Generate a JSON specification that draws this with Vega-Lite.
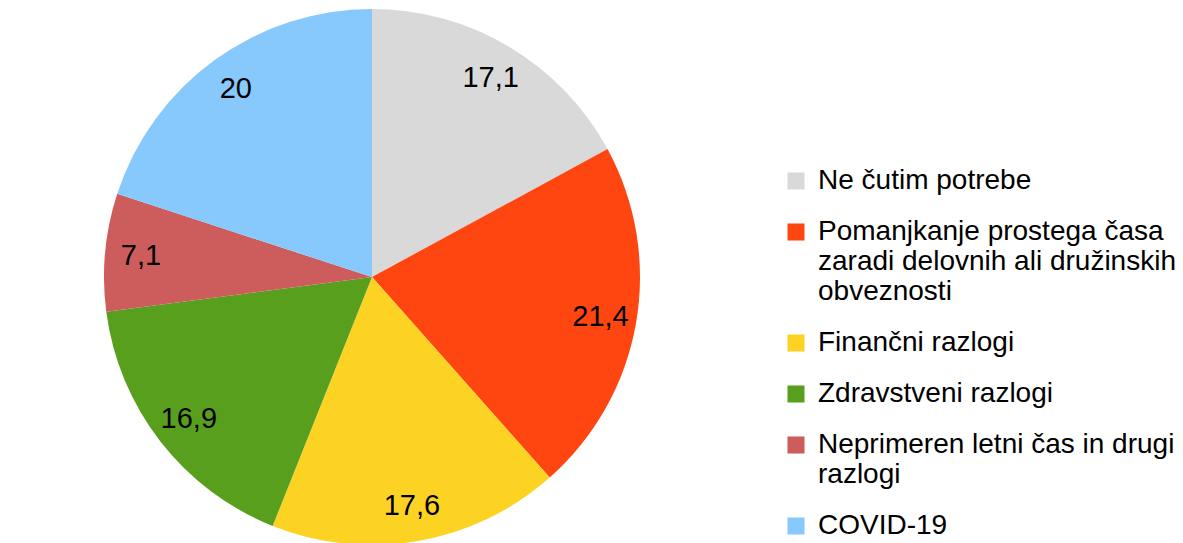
{
  "$schema": "https://vega.github.io/schema/vega-lite/v6.json",
  "width": 744,
  "height": 554,
  "padding": 0,
  "background": "white",
  "view": {"stroke": null},
  "config": {"font": "Liberation Sans"},
  "data": {"values": [
    {"reason": "Ne čutim potrebe", "value": 17.1, "label": "17,1", "order": 1},
    {"reason": "Pomanjkanje prostega časa|zaradi delovnih ali družinskih|obveznosti", "value": 21.4, "label": "21,4", "order": 2},
    {"reason": "Finančni razlogi", "value": 17.6, "label": "17,6", "order": 3},
    {"reason": "Zdravstveni razlogi", "value": 16.9, "label": "16,9", "order": 4},
    {"reason": "Neprimeren letni čas in drugi|razlogi", "value": 7.1, "label": "7,1", "order": 5},
    {"reason": "COVID-19", "value": 20, "label": "20", "order": 6}
  ]},
  "encoding": {
    "theta": {"field": "value", "type": "quantitative", "stack": true},
    "order": {"field": "order", "type": "quantitative"},
    "color": {
      "field": "reason",
      "type": "nominal",
      "sort": null,
      "scale": {
        "domain": ["Ne čutim potrebe", "Pomanjkanje prostega časa|zaradi delovnih ali družinskih|obveznosti", "Finančni razlogi", "Zdravstveni razlogi", "Neprimeren letni čas in drugi|razlogi", "COVID-19"],
        "range": ["#D9D9D9", "#FF4510", "#FDD323", "#589F1E", "#CD5C5C", "#87C9FC"]
      },
      "legend": {
        "title": null,
        "orient": "none",
        "legendX": 782,
        "legendY": 167,
        "symbolType": "square",
        "symbolSize": 290,
        "symbolStrokeWidth": 0,
        "symbolOpacity": 1,
        "labelFont": "Liberation Sans",
        "labelFontSize": 28,
        "labelColor": "#000000",
        "labelLimit": 500,
        "labelOffset": 8,
        "rowPadding": 23,
        "labelExpr": "split(datum.label, '|')",
        "labelBaseline": "middle",
        "encode": {"labels": {"update": {"lineHeight": {"value": 32.5}}}}
      }
    }
  },
  "layer": [
    {"mark": {"type": "arc", "outerRadius": 268, "stroke": null}},
    {
      "mark": {"type": "text", "radius": 232, "fontSize": 29, "font": "Liberation Sans", "color": "#000000"},
      "encoding": {"text": {"field": "label", "type": "nominal"}, "color": {"value": "#000000"}}
    }
  ]
}
